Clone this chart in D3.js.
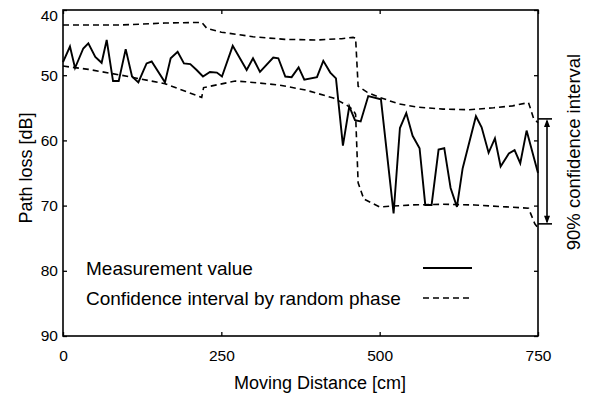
<!DOCTYPE html>
<html>
<head>
<meta charset="utf-8">
<script src="https://cdn.jsdelivr.net/npm/d3@7/dist/d3.min.js"></script>
<style>
  body { margin: 0; background: #fff; }
  svg { display: block; font-family: "Liberation Sans", Arial, Helvetica, sans-serif; }
</style>
</head>
<body>
<svg id="chart" width="590" height="401"></svg>
<script>
// Measured path loss along the moving distance
const measDist = [0, 11, 19, 32, 40, 51, 61, 69, 79, 88, 99, 109, 119, 127, 132, 140, 161, 170, 181, 191,
  201, 211, 221, 232, 243, 251, 268, 290, 300, 311, 332, 340, 351, 361, 372, 381, 401, 411, 422, 431,
  442, 452, 461, 470, 482, 502, 522, 532, 542, 552, 563, 572, 582, 593, 602, 612, 622, 631, 652, 661,
  672, 682, 691, 704, 713, 722, 732, 750];
const measLoss = [48.0, 45.6, 48.9, 45.9, 45.1, 47.2, 48.1, 44.6, 50.9, 50.9, 46.0, 50.2, 51.1, 49.3, 48.2, 47.9, 51.1, 47.4, 46.4, 48.2,
  48.3, 49.2, 50.2, 49.5, 49.6, 50.2, 45.5, 49.2, 47.4, 49.5, 47.3, 47.4, 50.2, 50.3, 48.8, 50.7, 50.3, 47.8, 49.6, 50.5,
  60.8, 54.8, 56.9, 57.1, 53.2, 53.7, 71.2, 58.1, 55.8, 59.3, 61.2, 69.9, 69.9, 61.4, 61.2, 67.3, 70.2, 64.3, 56.3, 58.0,
  61.9, 59.7, 64.0, 62.0, 61.5, 63.5, 58.5, 65.0];

// Upper bound of the confidence interval (random phase)
const upperDist = [0, 92, 161, 219, 227, 250, 300, 350, 400, 440, 458, 462, 466, 480, 500, 530, 560, 600, 640, 680, 710, 735, 743, 750];
const upperLoss = [42.3, 42.3, 42.0, 41.9, 42.8, 43.4, 44.1, 44.5, 44.6, 44.4, 44.2, 44.3, 51.7, 52.6, 53.4, 54.4, 54.9, 55.2, 55.3, 55.0, 54.7, 54.2, 56.6, 57.3];

// Lower bound of the confidence interval (random phase)
const lowerDist = [0, 40, 92, 161, 219, 222, 272, 288, 341, 384, 427, 448, 458, 462, 466, 475, 500, 550, 600, 650, 700, 735, 745, 750];
const lowerLoss = [48.6, 49.1, 50.0, 51.3, 53.4, 51.9, 50.9, 51.0, 51.5, 52.3, 53.5, 54.6, 55.3, 56.0, 66.5, 69.0, 70.2, 69.9, 69.8, 69.9, 70.2, 70.4, 72.8, 73.4];

const xTicks = [0, 250, 500, 750];
const yTicks = [40, 50, 60, 70, 80, 90];
const intervalEnds = [56.7, 72.8];  // 90% confidence interval marker

const legendLabels = ["Measurement value", "Confidence interval by random phase"];

const svg = d3.select("#chart");
const plotLeft = 63, plotRight = 538, plotTop = 10, plotBottom = 336;

const x = d3.scaleLinear().domain([0, 750]).range([plotLeft, plotRight]);
const y = d3.scaleLinear().domain([40, 90]).range([plotTop, plotBottom]);

const ink = "#000";

// Frame with inward ticks on every side
const g = svg.append("g");
g.append("rect")
  .attr("x", plotLeft).attr("y", plotTop)
  .attr("width", plotRight - plotLeft).attr("height", plotBottom - plotTop)
  .attr("fill", "none").attr("stroke", ink).attr("stroke-width", 1.6);

function styleAxis(sel) {
  sel.select(".domain").remove();
  sel.selectAll(".tick line").attr("stroke", ink).attr("stroke-width", 1.3);
  sel.selectAll(".tick text").attr("fill", ink).attr("font-size", 15.5).attr("font-family", "Liberation Sans, Arial, sans-serif");
}

const xAxisB = g.append("g").attr("transform", `translate(0,${plotBottom})`)
  .call(d3.axisBottom(x).tickValues(xTicks).tickSize(-4).tickPadding(10).tickFormat(d3.format("d")));
styleAxis(xAxisB);
xAxisB.selectAll(".tick text").attr("dy", "0.95em");

const xAxisT = g.append("g").attr("transform", `translate(0,${plotTop})`)
  .call(d3.axisTop(x).tickValues(xTicks).tickSize(-4).tickFormat(""));
styleAxis(xAxisT);

const yAxisL = g.append("g").attr("transform", `translate(${plotLeft},0)`)
  .call(d3.axisLeft(y).tickValues(yTicks).tickSize(-4).tickPadding(5).tickFormat(d3.format("d")));
styleAxis(yAxisL);
yAxisL.selectAll(".tick text").filter(d => d === 40).attr("dy", "0.65em");

const yAxisR = g.append("g").attr("transform", `translate(${plotRight},0)`)
  .call(d3.axisRight(y).tickValues(yTicks).tickSize(-4).tickFormat(""));
styleAxis(yAxisR);

// Series
const upper = upperDist.map((d, i) => [d, upperLoss[i]]);
const lower = lowerDist.map((d, i) => [d, lowerLoss[i]]);
const meas = measDist.map((d, i) => [d, measLoss[i]]);

const line = d3.line().x(d => x(d[0])).y(d => y(d[1]));

[upper, lower].forEach(s => {
  g.append("path").datum(s)
    .attr("d", line)
    .attr("fill", "none").attr("stroke", ink)
    .attr("stroke-width", 1.6).attr("stroke-dasharray", "6,4");
});

g.append("path").datum(meas)
  .attr("d", line)
  .attr("fill", "none").attr("stroke", ink)
  .attr("stroke-width", 1.9).attr("stroke-linejoin", "miter");

// 90% confidence interval marker on the right
const capX1 = plotRight, capX2 = plotRight + 14, arrowX = plotRight + 9;
intervalEnds.forEach(v => {
  svg.append("line")
    .attr("x1", capX1).attr("x2", capX2)
    .attr("y1", y(v)).attr("y2", y(v))
    .attr("stroke", ink).attr("stroke-width", 1.6);
});
svg.append("line")
  .attr("x1", arrowX).attr("x2", arrowX)
  .attr("y1", y(intervalEnds[0]) + 2).attr("y2", y(intervalEnds[1]) - 2)
  .attr("stroke", ink).attr("stroke-width", 1.6);
[[intervalEnds[0], 1], [intervalEnds[1], -1]].forEach(([v, dir]) => {
  const yy = y(v);
  svg.append("path")
    .attr("d", `M${arrowX},${yy} L${arrowX - 3},${yy + dir * 8} L${arrowX + 3},${yy + dir * 8} Z`)
    .attr("fill", ink);
});
svg.append("text")
  .attr("transform", `translate(580,152) rotate(-90)`)
  .attr("text-anchor", "middle")
  .attr("font-size", 18.5).attr("fill", ink)
  .text("90% confidence interval");

// Axis titles
svg.append("text")
  .attr("x", 320).attr("y", 389)
  .attr("text-anchor", "middle").attr("font-size", 18).attr("fill", ink)
  .text("Moving Distance [cm]");
svg.append("text")
  .attr("transform", `translate(32,168) rotate(-90)`)
  .attr("text-anchor", "middle").attr("font-size", 18).attr("fill", ink)
  .text("Path loss [dB]");

// Legend
const legendY = [268, 298];
legendLabels.forEach((label, i) => {
  svg.append("text")
    .attr("x", 86).attr("y", legendY[i])
    .attr("dy", "0.35em")
    .attr("font-size", 19).attr("fill", ink)
    .text(label);
  svg.append("line")
    .attr("x1", 423).attr("x2", 472)
    .attr("y1", legendY[i]).attr("y2", legendY[i])
    .attr("stroke", ink)
    .attr("stroke-width", i === 0 ? 1.9 : 1.6)
    .attr("stroke-dasharray", i === 0 ? null : "6,4");
});
</script>
</body>
</html>
